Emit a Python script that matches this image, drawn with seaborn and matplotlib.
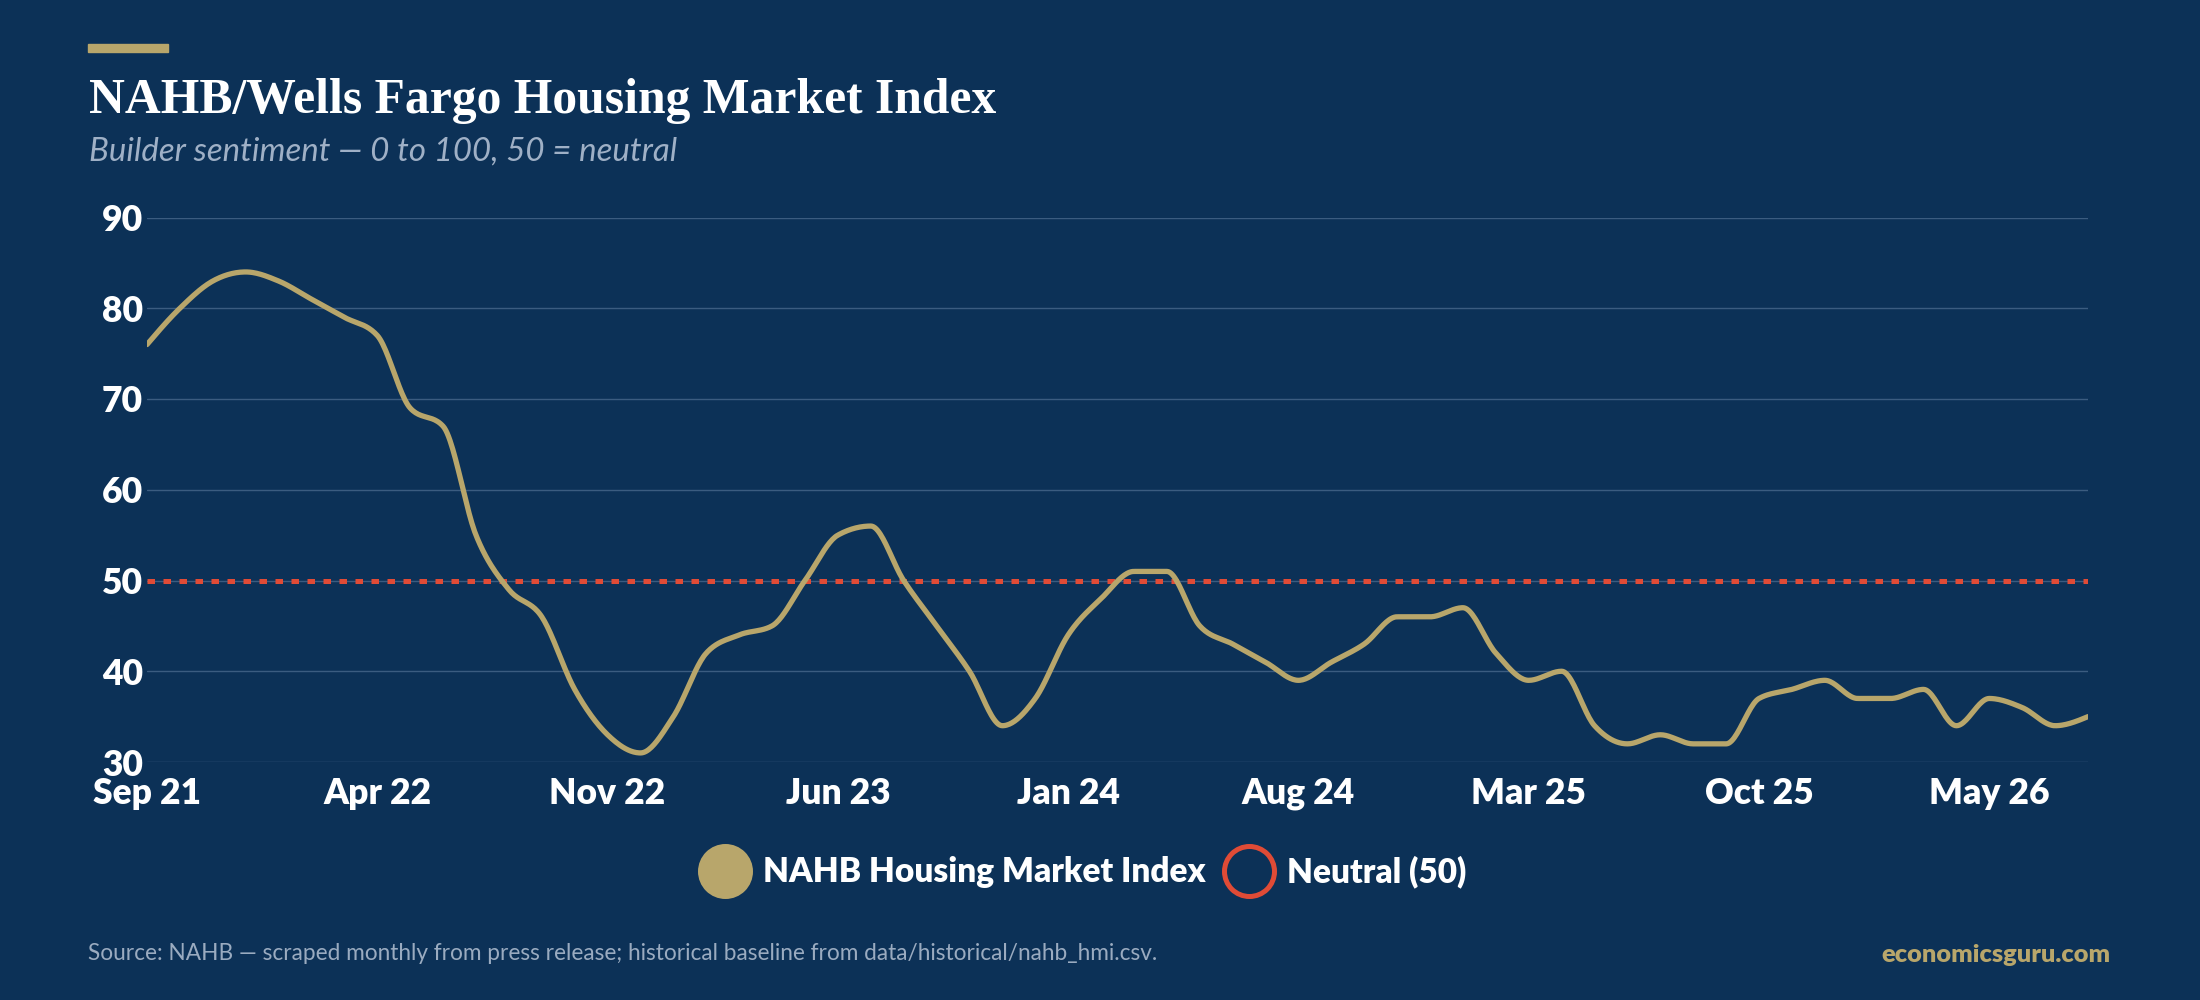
import numpy as np
import pandas as pd
import matplotlib
matplotlib.use("Agg")
import matplotlib.pyplot as plt
import seaborn as sns
from matplotlib.lines import Line2D
from matplotlib.patches import Rectangle

# ---------------- data ----------------
START_MONTH = "2021-09-01"
HMI = [76, 80, 83, 84, 83, 81, 79, 77, 69, 67, 55, 49,
       46, 38, 33, 31, 35, 42, 44, 45, 50, 55, 56, 50,
       45, 40, 34, 37, 44, 48, 51, 51, 45, 43, 41, 39,
       41, 43, 46, 46, 47, 42, 39, 40, 34, 32, 33, 32,
       32, 37, 38, 39, 37, 37, 38, 34, 37, 36, 34, 35]
NEUTRAL = 50
TICK_LABELS = ["Sep 21", "Apr 22", "Nov 22", "Jun 23", "Jan 24",
               "Aug 24", "Mar 25", "Oct 25", "May 26"]
TICK_EVERY = 7
Y_TICKS = [30, 40, 50, 60, 70, 80, 90]
SERIES_LABEL = "NAHB Housing Market Index"
NEUTRAL_LABEL = "Neutral (50)"
TITLE = "NAHB/Wells Fargo Housing Market Index"
SUBTITLE = "Builder sentiment \u2014 0 to 100, 50 = neutral"
SOURCE = ("Source: NAHB \u2014 scraped monthly from press release; "
          "historical baseline from data/historical/nahb_hmi.csv.")
BRAND = "economicsguru.com"

# ---------------- style ----------------
BG = "#0c3157"
GOLD = "#b8a66b"
RED = "#e04b36"
GRID = "#3b5c80"
SUB = "#9fb0c6"
FOOT = "#9aabc0"
SANS = ["Lato", "DejaVu Sans"]
HEAVY = "heavy"

W, H, DPI = 2200, 1000, 100

sns.set_style("dark", {"axes.facecolor": BG, "figure.facecolor": BG})
plt.rcParams["font.family"] = SANS

months = pd.date_range(START_MONTH, periods=len(HMI), freq="MS")
idx = np.arange(len(HMI))


def monotone_curve(x, y, n=24):
    """d3 curveMonotoneX rendering of the series (smooth drawing only)."""
    x = np.asarray(x, float)
    y = np.asarray(y, float)
    h = np.diff(x)
    s = np.diff(y) / h
    t = np.zeros_like(y)
    for i in range(1, len(y) - 1):
        s0, s1 = s[i - 1], s[i]
        p = (s0 * h[i] + s1 * h[i - 1]) / (h[i - 1] + h[i])
        t[i] = (np.sign(s0) + np.sign(s1)) * min(abs(s0), abs(s1), 0.5 * abs(p))
    t[0] = (3 * s[0] - t[1]) / 2
    t[-1] = (3 * s[-1] - t[-2]) / 2
    xs, ys = [], []
    u = np.linspace(0, 1, n, endpoint=False)
    for i in range(len(y) - 1):
        h00 = 2 * u**3 - 3 * u**2 + 1
        h10 = u**3 - 2 * u**2 + u
        h01 = -2 * u**3 + 3 * u**2
        h11 = u**3 - u**2
        xs.extend(x[i] + u * h[i])
        ys.extend(h00 * y[i] + h10 * h[i] * t[i] + h01 * y[i + 1] + h11 * h[i] * t[i + 1])
    xs.append(x[-1])
    ys.append(y[-1])
    return np.array(xs), np.array(ys)


fig = plt.figure(figsize=(W / DPI, H / DPI), dpi=DPI, facecolor=BG)
ax = fig.add_axes([147 / W, 1 - 762 / H, (2088 - 147) / W, (762 - 217.5) / H])
ax.set_facecolor(BG)

cx, cy = monotone_curve(idx, HMI)
curve = pd.DataFrame({"x": cx, "y": cy})

ax.axhline(NEUTRAL, color=RED, lw=3.6, ls=(0, (1.5, 1.7)),
           dash_capstyle="butt", zorder=3)
sns.lineplot(data=curve, x="x", y="y", ax=ax, color=GOLD, lw=3.8,
             zorder=4, sort=False, estimator=None)

ax.set_xlim(idx[0], idx[-1])
ax.set_ylim(Y_TICKS[0], Y_TICKS[-1])
ax.set_yticks(Y_TICKS)
ax.set_yticklabels([str(v) for v in Y_TICKS])
ax.set_xticks(idx[::TICK_EVERY])
ax.set_xticklabels(TICK_LABELS)
ax.set_xlabel("")
ax.set_ylabel("")
ax.grid(axis="y", color=GRID, lw=1.0, zorder=0)
ax.grid(axis="x", visible=False)
for sp in ax.spines.values():
    sp.set_visible(False)
ax.tick_params(axis="y", length=0, pad=3.0, labelsize=25.5, labelcolor="white")
ax.tick_params(axis="x", length=0, pad=11, labelsize=25.5, labelcolor="white")
for lab in ax.get_xticklabels() + ax.get_yticklabels():
    lab.set_fontweight(HEAVY)

# legend
handles = [
    Line2D([], [], ls="none", marker="o", markersize=39.6,
           markerfacecolor=GOLD, markeredgecolor=GOLD, markeredgewidth=0),
    Line2D([], [], ls="none", marker="o", markersize=36,
           markerfacecolor=BG, markeredgecolor=RED, markeredgewidth=3.6),
]
leg = fig.legend(handles, [SERIES_LABEL, NEUTRAL_LABEL], loc="center",
                 bbox_to_anchor=(1082 / W, 1 - 872 / H), ncol=2, frameon=False,
                 handlelength=1.65, handletextpad=0.3, columnspacing=0.5,
                 prop={"family": SANS, "weight": HEAVY, "size": 24})
for t in leg.get_texts():
    t.set_color("white")

# header / footer
fig.patches.append(Rectangle((88 / W, 1 - 52 / H), 80 / W, 8 / H,
                             transform=fig.transFigure, color=GOLD))
title = fig.text(89 / W, 1 - 113 / H, TITLE, color="white", fontsize=37,
                 fontweight="bold", family=["Liberation Serif", "DejaVu Serif"],
                 va="baseline", ha="left")
sub = fig.text(89 / W, 1 - 161 / H, SUBTITLE, color=SUB, fontsize=21,
               style="italic", family=SANS, va="baseline", ha="left")
foot = fig.text(88 / W, 1 - 953 / H, SOURCE, color=FOOT, fontsize=15,
                family=SANS, va="center", ha="left")
brand = fig.text(2111 / W, 1 - 955 / H, BRAND, color=GOLD, fontsize=16,
                 fontweight=HEAVY, family=SANS, va="center", ha="right")

renderer = fig.canvas.get_renderer()
for txt, target in [(title, 907), (sub, 588), (foot, 1070), (brand, 229)]:
    w = txt.get_window_extent(renderer).width
    txt.set_fontsize(txt.get_fontsize() * target / w)

fig.savefig("out.png", dpi=DPI, facecolor=BG)
